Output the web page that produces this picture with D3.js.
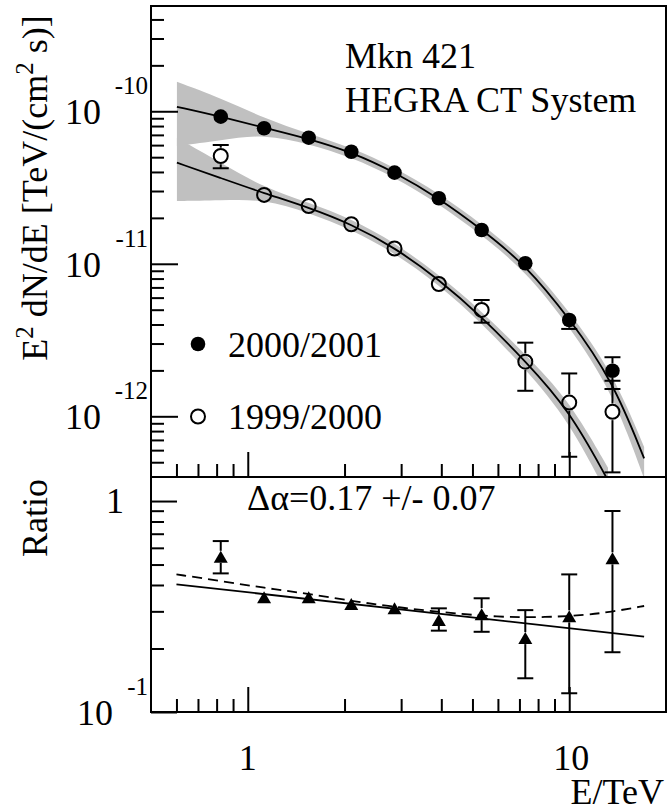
<!DOCTYPE html>
<html><head><meta charset="utf-8">
<script src="https://cdn.jsdelivr.net/npm/d3@7"></script>
<style>
body{margin:0;background:#fff}
svg{display:block}
</style>
</head><body>
<svg id="c" width="667" height="812"></svg>
<script>
// ---------- data ----------
const energies = [0.824, 1.124, 1.547, 2.099, 2.861, 3.93, 5.34, 7.30, 10.0, 13.63];

const flux2001   = [9.22e-11, 7.74e-11, 6.71e-11, 5.43e-11, 3.96e-11, 2.69e-11, 1.665e-11, 1.008e-11, 4.28e-12, 1.99e-12];
const flux2001Hi = [9.6e-11, 8.0e-11, 6.95e-11, 5.65e-11, 4.12e-11, 2.8e-11, 1.75e-11, 1.07e-11, 4.75e-12, 2.44e-12];
const flux2001Lo = [8.85e-11, 7.5e-11, 6.5e-11, 5.22e-11, 3.8e-11, 2.58e-11, 1.58e-11, 9.5e-12, 3.74e-12, 1.51e-12];

const flux1999   = [5.09e-11, 2.83e-11, 2.39e-11, 1.816e-11, 1.26e-11, 7.37e-12, 4.98e-12, 2.28e-12, 1.23e-12, 1.07e-12];
const flux1999Hi = [6.01e-11, 2.95e-11, 2.49e-11, 1.89e-11, 1.32e-11, 7.8e-12, 5.79e-12, 3.04e-12, 1.91e-12, 1.71e-12];
const flux1999Lo = [4.23e-11, 2.71e-11, 2.29e-11, 1.74e-11, 1.2e-11, 6.95e-12, 4.11e-12, 1.47e-12, 5.43e-13, 4.29e-13];

// fit curves
const fit2001E = [0.602, 0.824, 1.124, 1.547, 2.099, 2.861, 3.93, 5.34, 7.30, 10.0, 13.63, 17.1];
const fit2001V = [1.07e-10, 9.22e-11, 7.8e-11, 6.6e-11, 5.4e-11, 4.0e-11, 2.69e-11, 1.68e-11, 9.9e-12, 4.4e-12, 1.73e-12, 5.3e-13];
const fit1999E = [0.602, 0.824, 1.124, 1.547, 2.099, 2.861, 3.93, 5.34, 7.30, 10.0, 13.2];
const fit1999V = [4.60e-11, 3.65e-11, 2.9e-11, 2.34e-11, 1.82e-11, 1.28e-11, 7.9e-12, 4.5e-12, 2.3e-12, 1.1e-12, 3.8e-13];

// error bands of the fits
const band2001E  = [0.602, 0.824, 1.124, 1.547, 2.099, 2.861, 3.93, 5.34, 7.30, 10.0, 13.63, 17.1];
const band2001Hi = [1.56e-10, 1.22e-10, 9.0e-11, 7.1e-11, 5.8e-11, 4.3e-11, 2.9e-11, 1.82e-11, 1.08e-11, 4.9e-12, 1.95e-12, 6.3e-13];
const band2001Lo = [5.92e-11, 6.45e-11, 7.1e-11, 6.12e-11, 5.0e-11, 3.7e-11, 2.48e-11, 1.54e-11, 9.0e-12, 3.9e-12, 1.45e-12, 3.9e-13];
const band1999E  = [0.602, 0.824, 1.124, 1.547, 2.099, 2.861, 3.93, 5.34, 7.30, 10.0, 13.2];
const band1999Hi = [6.68e-11, 4.6e-11, 3.15e-11, 2.52e-11, 1.97e-11, 1.38e-11, 8.5e-12, 4.9e-12, 2.55e-12, 1.28e-12, 4.6e-13];
const band1999Lo = [2.58e-11, 2.6e-11, 2.66e-11, 2.16e-11, 1.68e-11, 1.18e-11, 7.3e-12, 4.1e-12, 2.05e-12, 0.93e-12, 3.0e-13];

// ratio panel
const ratio   = [0.544, 0.350, 0.350, 0.325, 0.310, 0.273, 0.291, 0.224, 0.284, 0.535];
const ratioHi = [0.646, 0.36, 0.36, 0.335, 0.32, 0.310, 0.346, 0.304, 0.449, 0.897];
const ratioLo = [0.454, 0.34, 0.34, 0.315, 0.30, 0.243, 0.240, 0.1445, 0.1227, 0.192];
const ratioFitE = [0.6, 17.1];
const ratioFitV = [0.403, 0.2275];
const ratioDashE = [0.6, 0.824, 1.129, 1.521, 2.174, 2.961, 3.94, 6.05, 8.47, 11.27, 13.63, 17.1];
const ratioDashV = [0.449, 0.418, 0.387, 0.365, 0.333, 0.313, 0.298, 0.281, 0.281, 0.288, 0.299, 0.318];

// axes
const xDomain = [0.5, 20];
const yTopDomain = [4e-13, 4.9e-10];
const yBotDomain = [0.1, 1.3];
const xMajor = [1, 10];
const xMajorLabels = ["1", "10"];
const xMinor = [0.6, 0.7, 0.8, 0.9, 2, 3, 4, 5, 6, 7, 8, 9];
const yTopMajor = [1e-12, 1e-11, 1e-10];
const yTopExp = ["-12", "-11", "-10"];
const yTopMinor = [5e-13, 6e-13, 7e-13, 8e-13, 9e-13, 2e-12, 3e-12, 4e-12, 5e-12, 6e-12, 7e-12, 8e-12, 9e-12,
                   2e-11, 3e-11, 4e-11, 5e-11, 6e-11, 7e-11, 8e-11, 9e-11, 2e-10, 3e-10, 4e-10];
const yBotMajor = [0.1, 1];
const yBotMinor = [0.2, 0.3, 0.4, 0.5, 0.6, 0.7, 0.8, 0.9];

const legendLabels = ["2000/2001", "1999/2000"];

// ---------- drawing ----------
const FONT = '"Liberation Serif", Tinos, "Times New Roman", Times, serif';
const svg = d3.select('#c').style('font-family', FONT);
svg.append('rect').attr('width', 667).attr('height', 812).attr('fill', '#fff');
const L = 151, R = 666, T = 6, M = 477, B = 712;
const x = d3.scaleLog().domain(xDomain).range([L, R]);
const yT = d3.scaleLog().domain(yTopDomain).range([M, T]);
const yB = d3.scaleLog().domain(yBotDomain).range([B, M]);

const defs = svg.append('defs');
defs.append('clipPath').attr('id', 'clipT').append('rect').attr('x', L).attr('y', T).attr('width', R - L).attr('height', M - T);
defs.append('clipPath').attr('id', 'clipB').append('rect').attr('x', L).attr('y', M).attr('width', R - L).attr('height', B - M);

const gT = svg.append('g').attr('clip-path', 'url(#clipT)');
const gB = svg.append('g').attr('clip-path', 'url(#clipB)');

const zip = (a, b) => a.map((v, i) => ({E: v, v: b[i]}));
const zip3 = (a, hi, lo) => a.map((v, i) => ({E: v, hi: hi[i], lo: lo[i]}));

const areaT = d3.area().x(d => x(d.E)).y0(d => yT(d.lo)).y1(d => yT(d.hi)).curve(d3.curveBasis);
gT.append('path').datum(zip3(band2001E, band2001Hi, band2001Lo)).attr('d', areaT).attr('fill', '#c0c0c0');
gT.append('path').datum(zip3(band1999E, band1999Hi, band1999Lo)).attr('d', areaT).attr('fill', '#c0c0c0');

const lineT = d3.line().x(d => x(d.E)).y(d => yT(d.v)).curve(d3.curveBasis);
gT.append('path').datum(zip(fit2001E, fit2001V)).attr('d', lineT).attr('fill', 'none').attr('stroke', '#000').attr('stroke-width', 1.8);
gT.append('path').datum(zip(fit1999E, fit1999V)).attr('d', lineT).attr('fill', 'none').attr('stroke', '#000').attr('stroke-width', 1.8);

function errBar(g, cx, cy, yHi, yLo, r) {
  const cw = 8;
  if (yHi < cy - r) {
    g.append('line').attr('x1', cx).attr('x2', cx).attr('y1', yHi).attr('y2', cy - r).attr('stroke', '#000').attr('stroke-width', 2);
    g.append('line').attr('x1', cx - cw).attr('x2', cx + cw).attr('y1', yHi).attr('y2', yHi).attr('stroke', '#000').attr('stroke-width', 2);
  }
  if (yLo > cy + r) {
    g.append('line').attr('x1', cx).attr('x2', cx).attr('y1', cy + r).attr('y2', yLo).attr('stroke', '#000').attr('stroke-width', 2);
    g.append('line').attr('x1', cx - cw).attr('x2', cx + cw).attr('y1', yLo).attr('y2', yLo).attr('stroke', '#000').attr('stroke-width', 2);
  }
}

const rC = 7.3;
energies.forEach((E, i) => {
  errBar(gT, x(E), yT(flux1999[i]), yT(flux1999Hi[i]), yT(flux1999Lo[i]), rC + 1);
  gT.append('circle').attr('cx', x(E)).attr('cy', yT(flux1999[i])).attr('r', 7).attr('fill', 'none').attr('stroke', '#000').attr('stroke-width', 2);
});
energies.forEach((E, i) => {
  errBar(gT, x(E), yT(flux2001[i]), yT(flux2001Hi[i]), yT(flux2001Lo[i]), rC);
  gT.append('circle').attr('cx', x(E)).attr('cy', yT(flux2001[i])).attr('r', rC).attr('fill', '#000');
});

// ratio panel
const lineB = d3.line().x(d => x(d.E)).y(d => yB(d.v));
gB.append('path').datum(zip(ratioFitE, ratioFitV)).attr('d', lineB).attr('fill', 'none').attr('stroke', '#000').attr('stroke-width', 1.8);
gB.append('path').datum(zip(ratioDashE, ratioDashV)).attr('d', lineB.curve(d3.curveBasis)).attr('fill', 'none')
  .attr('stroke', '#000').attr('stroke-width', 1.8).attr('stroke-dasharray', '10,6');
energies.forEach((E, i) => {
  const cx = x(E), cy = yB(ratio[i]);
  errBar(gB, cx, cy, yB(ratioHi[i]), yB(ratioLo[i]), 6);
  gB.append('path').attr('d', `M${cx - 7},${cy + 6}L${cx + 7},${cy + 6}L${cx},${cy - 6}Z`).attr('fill', '#000');
});

// axes ticks
function tickAxis(gen, values, size) {
  return gen.tickValues(values).tickSize(size).tickSizeOuter(0).tickFormat('');
}
function styleAxis(g) {
  g.select('.domain').remove();
  g.selectAll('.tick line').attr('stroke', '#000').attr('stroke-width', 2);
}
[M, B].forEach(yy => {
  svg.append('g').attr('transform', `translate(0,${yy})`).call(tickAxis(d3.axisTop(x), xMajor, 25)).call(styleAxis);
  svg.append('g').attr('transform', `translate(0,${yy})`).call(tickAxis(d3.axisTop(x), xMinor, 13)).call(styleAxis);
});
svg.append('g').attr('transform', `translate(${L},0)`).call(tickAxis(d3.axisRight(yT), yTopMajor, 27)).call(styleAxis);
svg.append('g').attr('transform', `translate(${L},0)`).call(tickAxis(d3.axisRight(yT), yTopMinor, 13)).call(styleAxis);
svg.append('g').attr('transform', `translate(${L},0)`).call(tickAxis(d3.axisRight(yB), yBotMajor, 26)).call(styleAxis);
svg.append('g').attr('transform', `translate(${L},0)`).call(tickAxis(d3.axisRight(yB), yBotMinor, 13)).call(styleAxis);

// frames
svg.append('rect').attr('x', L).attr('y', T).attr('width', R - L).attr('height', M - T).attr('fill', 'none').attr('stroke', '#000').attr('stroke-width', 2);
svg.append('rect').attr('x', L).attr('y', M).attr('width', R - L).attr('height', B - M).attr('fill', 'none').attr('stroke', '#000').attr('stroke-width', 2);

// tick labels
const FS = 36, ES = 25;
const txt = (xx, yy, s, size, anchor) => svg.append('text').attr('x', xx).attr('y', yy)
  .attr('text-anchor', anchor || 'start').attr('font-size', size).style('font-family', FONT).attr('fill', '#000').text(s);
yTopMajor.forEach((m, i) => {
  txt(101, yT(m) + 13, '10', FS, 'end');
  txt(148, yT(m) - 17, yTopExp[i], ES, 'end');
});
txt(124, yB(1) + 12, '1', FS, 'end');
txt(113, yB(0.1) + 13, '10', FS, 'end');
txt(148, yB(0.1) - 17, '-1', ES, 'end');
xMajor.forEach((m, i) => txt(x(m) + (i ? 2 : 0), 770, xMajorLabels[i], FS, 'middle'));
txt(664, 804, 'E/TeV', FS, 'end');

// axis titles
const yt = svg.append('text').attr('transform', 'translate(47,188) rotate(-90)').attr('text-anchor', 'middle')
  .attr('font-size', FS).style('font-family', FONT);
yt.append('tspan').text('E');
yt.append('tspan').attr('font-size', ES).attr('dy', -14).text('2');
yt.append('tspan').attr('dy', 14).text(' dN/dE [TeV/(cm');
yt.append('tspan').attr('font-size', ES).attr('dy', -14).text('2');
yt.append('tspan').attr('dy', 14).text(' s)]');
svg.append('text').attr('transform', 'translate(47,518) rotate(-90)').attr('text-anchor', 'middle')
  .attr('font-size', FS).style('font-family', FONT).text('Ratio');

// annotations
txt(345, 68, 'Mkn 421', FS);
txt(345, 112, 'HEGRA CT System', FS);
txt(247, 510, '\u0394\u03b1=0.17 +/- 0.07', FS);

// legend
svg.append('circle').attr('cx', 198).attr('cy', 344).attr('r', rC).attr('fill', '#000');
txt(228, 357, legendLabels[0], FS);
svg.append('circle').attr('cx', 198).attr('cy', 416.5).attr('r', 7).attr('fill', 'none').attr('stroke', '#000').attr('stroke-width', 2);
txt(228, 429, legendLabels[1], FS);
</script>
</body></html>
